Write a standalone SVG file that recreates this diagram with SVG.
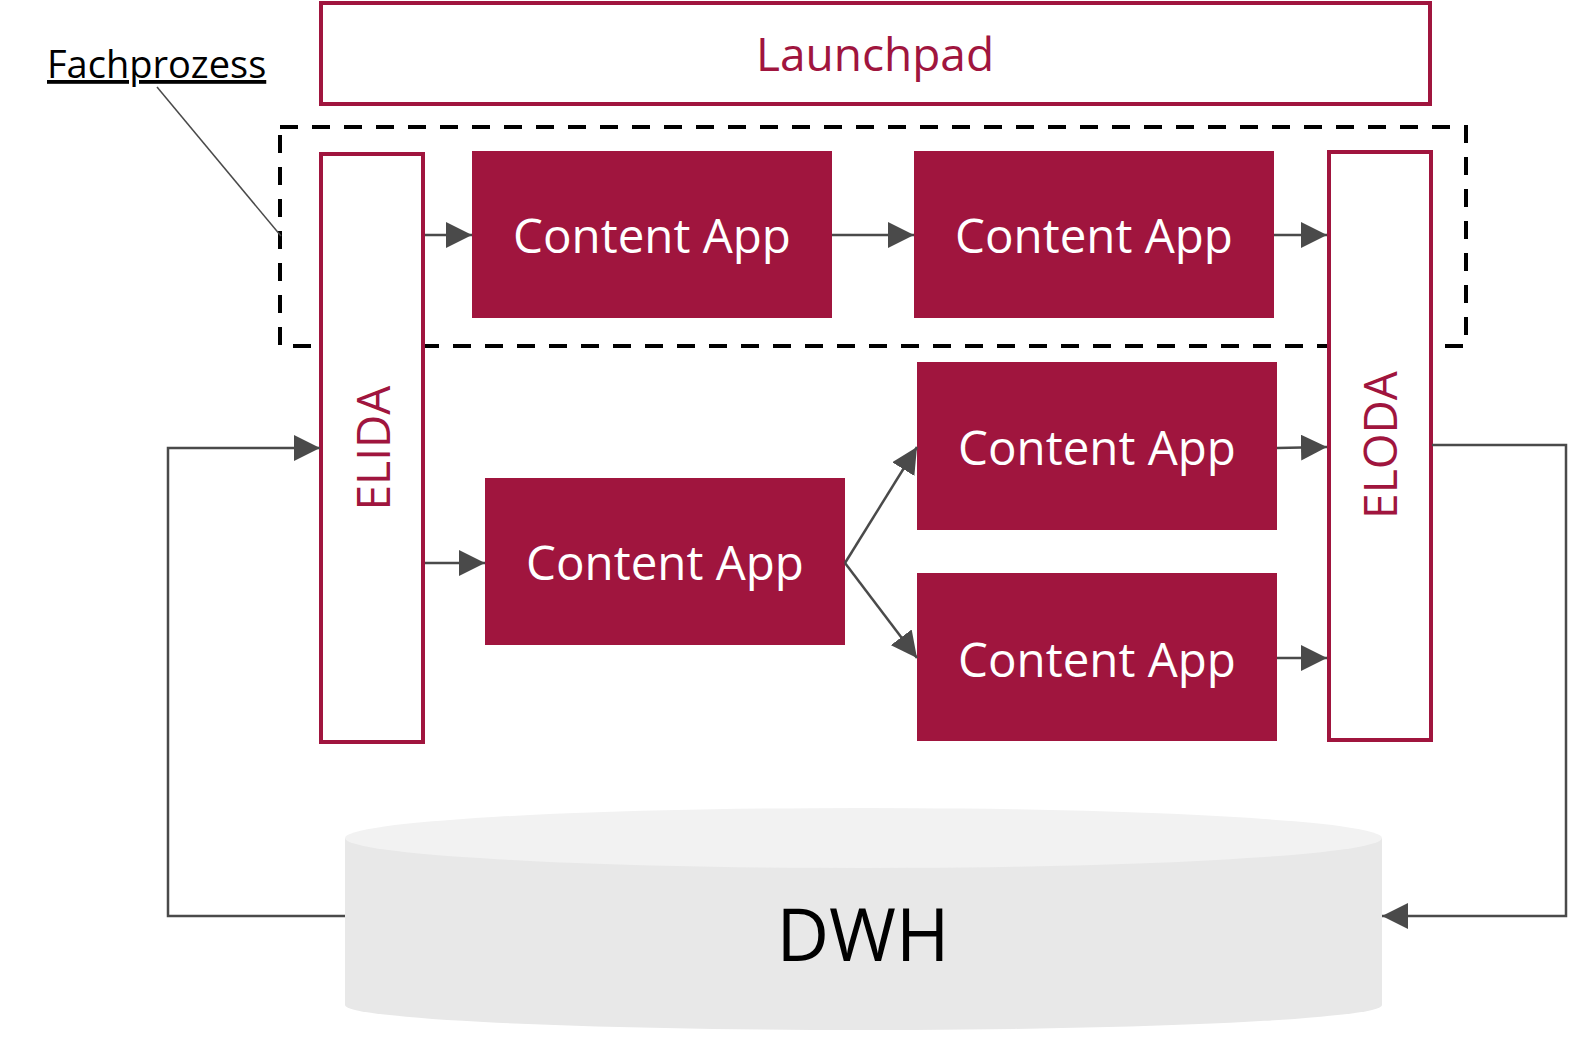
<svg xmlns="http://www.w3.org/2000/svg" width="1580" height="1041" viewBox="0 0 1580 1041">
<style>
.frame{fill:#fff;stroke:#A0153E;stroke-width:4}
.app{fill:#A0153E}
.appt{font-family:"Open Sans",sans-serif;font-size:47.5px;fill:#fff;text-anchor:middle}
.lbl{font-family:"Open Sans",sans-serif;font-size:46px;fill:#A0153E;text-anchor:middle}
.con{fill:none;stroke:#4a4a4a;stroke-width:2.5}
</style>
<defs>
<marker id="ahb" viewBox="0 0 10 10" refX="10" refY="5" markerWidth="26" markerHeight="26" markerUnits="userSpaceOnUse" orient="auto">
<path d="M0,0 L10,5 L0,10 Z" fill="#4a4a4a"/>
</marker>
</defs>
<g id="dwh">
<path d="M345,838 L345,1005 A518.5,25 0 0 0 1382,1005 L1382,838 Z" fill="#e8e8e8"/>
<ellipse cx="863.5" cy="838" rx="518.5" ry="30" fill="#f2f2f2"/>
<text x="863" y="961" font-family="Open Sans,sans-serif" font-size="72.5" text-anchor="middle" fill="#000">DWH</text>
</g>
<g id="launchpad">
<rect class="frame" x="321" y="3" width="1109" height="101"/>
<text class="lbl" x="875" y="71">Launchpad</text>
</g>
<g id="fachprozess">
<rect x="280" y="127" width="1186" height="219" fill="none" stroke="#000" stroke-width="4" stroke-dasharray="18 14"/>
<text x="47" y="78" font-family="Open Sans,sans-serif" font-size="38" fill="#000" text-decoration="underline">Fachprozess</text>
<line x1="157" y1="87" x2="281" y2="236" stroke="#4a4a4a" stroke-width="1.5"/>
</g>
<g id="elida">
<rect class="frame" x="321" y="154" width="102" height="588"/>
<text class="lbl" transform="translate(390,448) rotate(-90)">ELIDA</text>
</g>
<g id="eloda">
<rect class="frame" x="1329" y="152" width="102" height="588"/>
<text class="lbl" transform="translate(1397,445) rotate(-90)">ELODA</text>
</g>
<g id="app1"><rect class="app" x="472" y="151" width="360" height="167"/><text class="appt" x="652" y="253">Content App</text></g>
<g id="app2"><rect class="app" x="914" y="151" width="360" height="167"/><text class="appt" x="1094" y="253">Content App</text></g>
<g id="app3"><rect class="app" x="485" y="478" width="360" height="167"/><text class="appt" x="665" y="580">Content App</text></g>
<g id="app4"><rect class="app" x="917" y="362" width="360" height="168"/><text class="appt" x="1097" y="465">Content App</text></g>
<g id="app5"><rect class="app" x="917" y="573" width="360" height="168"/><text class="appt" x="1097" y="677">Content App</text></g>
<g id="connectors">
<line class="con" x1="425" y1="235" x2="472" y2="235" marker-end="url(#ahb)"/>
<line class="con" x1="832" y1="235" x2="914" y2="235" marker-end="url(#ahb)"/>
<line class="con" x1="1274" y1="235" x2="1327" y2="235" marker-end="url(#ahb)"/>
<line class="con" x1="425" y1="563" x2="485" y2="563" marker-end="url(#ahb)"/>
<line class="con" x1="845" y1="563" x2="917" y2="447" marker-end="url(#ahb)"/>
<line class="con" x1="845" y1="563" x2="917" y2="658" marker-end="url(#ahb)"/>
<line class="con" x1="1277" y1="448" x2="1327" y2="447" marker-end="url(#ahb)"/>
<line class="con" x1="1277" y1="658" x2="1327" y2="658" marker-end="url(#ahb)"/>
<polyline class="con" points="345,916 168,916 168,448 320,448" marker-end="url(#ahb)"/>
<polyline class="con" points="1432,445 1566,445 1566,916 1382,916" marker-end="url(#ahb)"/>
</g>
</svg>
